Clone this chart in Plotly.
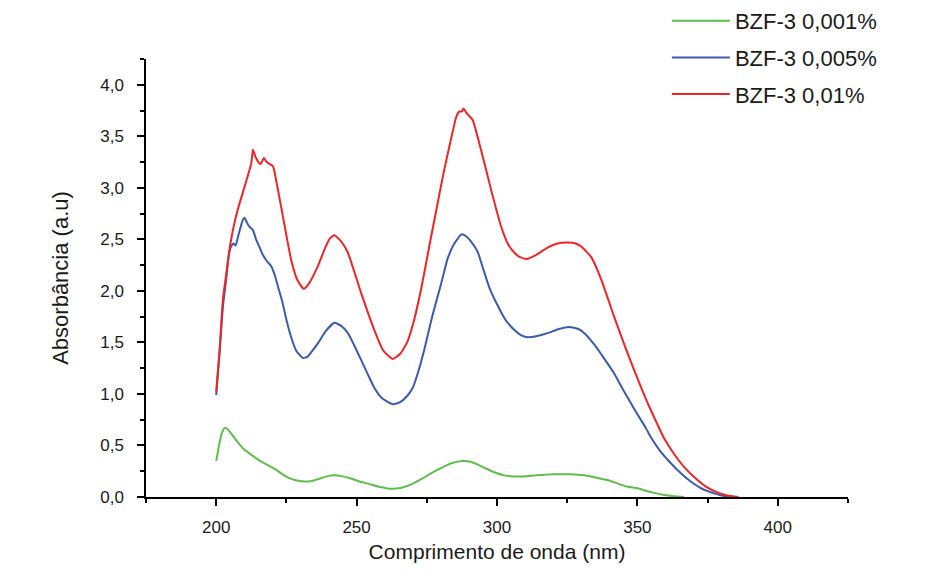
import plotly.graph_objects as go

# ---- data ----
wl_green = [200, 201, 202, 203, 204, 205.5, 207.7, 210, 212.5, 215, 218.4, 221, 223.1, 225.5, 227.9,
            231.4, 234, 237, 240, 242.1, 245, 248, 251, 254, 258, 262.3, 266, 270, 273.5, 276.5,
            280, 284, 287.8, 291, 295, 299, 302.6, 306, 309.7, 314, 320, 326.3, 331, 335, 339.4,
            343, 346.5, 350.1, 353, 356, 359.5, 363, 366.7]
abs_green = [0.35, 0.50, 0.62, 0.67, 0.66, 0.61, 0.53, 0.46, 0.41, 0.36, 0.31, 0.27, 0.23, 0.19, 0.165,
             0.15, 0.155, 0.18, 0.205, 0.21, 0.20, 0.18, 0.15, 0.13, 0.10, 0.08, 0.09, 0.13, 0.18, 0.23,
             0.28, 0.33, 0.35, 0.34, 0.29, 0.24, 0.21, 0.20, 0.20, 0.21, 0.22, 0.22, 0.21, 0.19, 0.165,
             0.13, 0.10, 0.085, 0.06, 0.04, 0.02, 0.008, 0.0]

wl_blue = [200, 201.2, 202.4, 203.5, 204.5, 205.3, 206.2, 206.9, 208, 209.5, 210.1, 211, 211.9, 213.1,
           214.2, 215.5, 216.6, 218, 219.6, 221, 222, 223.5, 225, 226.7, 228.5, 230.8, 232.5, 234,
           236.2, 239, 242.1, 244.5, 246.9, 249, 251.6, 254, 256.3, 259, 262.9, 265.5, 268, 270,
           272, 274.1, 277, 280.1, 282.5, 284.8, 287.4, 289, 290.7, 293.1, 295, 297.3, 300.2, 303, 306.2,
           308.5, 310.9, 314, 318, 322, 325.7, 329, 331.5, 334.6, 338, 341.7, 344.5, 347.7, 350.5,
           353, 354.8, 358, 361.5, 365.5, 369, 373, 377.3, 380, 383]
abs_blue = [0.99, 1.40, 1.85, 2.10, 2.35, 2.43, 2.46, 2.44, 2.55, 2.69, 2.71, 2.66, 2.62, 2.59,
            2.50, 2.42, 2.35, 2.29, 2.24, 2.14, 2.04, 1.90, 1.72, 1.55, 1.42, 1.35, 1.36, 1.41,
            1.49, 1.61, 1.69, 1.66, 1.59, 1.48, 1.33, 1.19, 1.06, 0.96, 0.90, 0.92, 0.98, 1.06,
            1.22, 1.43, 1.76, 2.07, 2.32, 2.46, 2.55, 2.53, 2.48, 2.38, 2.22, 2.03, 1.86, 1.72, 1.62,
            1.57, 1.55, 1.56, 1.59, 1.63, 1.65, 1.63, 1.58, 1.48, 1.35, 1.20, 1.06, 0.91, 0.78,
            0.67, 0.58, 0.45, 0.34, 0.23, 0.15, 0.08, 0.035, 0.015, 0.0]

wl_red = [200, 201.2, 202.4, 203.5, 205, 206.5, 208, 210.1, 212.5, 213.1, 214, 215, 215.8, 217, 218,
          220.2, 221.5, 223.1, 226.7, 229, 231.2, 233, 236.2, 239, 240.5, 242.1, 244.5, 246.9, 251.6,
          256.3, 259.5, 262.9, 265.5, 268, 270.5, 273, 276, 278.5, 281, 283.6, 285.4, 286.5, 287.5,
          288.1, 289, 290, 291.3, 294.3, 297.9, 301.4, 304, 306.2, 308, 310.5, 314, 318, 321.5,
          325.2, 328, 330, 333.5, 337, 341.7, 346, 351.2, 354, 357.2, 359.5, 363, 367, 371.4, 375,
          378, 382, 386]
abs_red = [1.02, 1.42, 1.92, 2.15, 2.45, 2.66, 2.82, 3.01, 3.24, 3.37, 3.30, 3.25, 3.23, 3.29, 3.25,
           3.21, 3.05, 2.82, 2.30, 2.10, 2.02, 2.07, 2.24, 2.43, 2.51, 2.54, 2.48, 2.37, 1.98,
           1.62, 1.42, 1.34, 1.39, 1.50, 1.72, 2.02, 2.45, 2.80, 3.15, 3.47, 3.68, 3.74, 3.74,
           3.77, 3.73, 3.70, 3.66, 3.37, 2.98, 2.63, 2.45, 2.37, 2.33, 2.31, 2.35, 2.42, 2.46,
           2.47, 2.46, 2.43, 2.33, 2.12, 1.75, 1.43, 1.07, 0.89, 0.70, 0.57, 0.42, 0.28, 0.165, 0.09,
           0.05, 0.015, 0.0]

series_names = ["BZF-3 0,001%", "BZF-3 0,005%", "BZF-3 0,01%"]
series_colors = ["#5DBE4A", "#3A5CAE", "#F02424"]

x_title = "Comprimento de onda (nm)"
y_title = "Absorbância (a.u)"

FONT = "Liberation Sans, Arial, sans-serif"

fig = go.Figure()
for i, (xs, ys) in enumerate([(wl_green, abs_green), (wl_blue, abs_blue), (wl_red, abs_red)]):
    fig.add_trace(go.Scatter(
        x=xs, y=ys, mode="lines", name=series_names[i], legendgroup=f"g{i}",
        line=dict(color=series_colors[i], width=2, shape="spline", smoothing=0.5),
    ))

fig.update_layout(
    width=924, height=574,
    paper_bgcolor="white", plot_bgcolor="white",
    margin=dict(l=138, r=84, t=51, b=85, autoexpand=False),
    separators=",.",
    font=dict(family=FONT, color="#1a1a1a"),
    showlegend=True,
    legend=dict(
        x=0.742, y=1.1347, xref="paper", yref="paper", xanchor="left", yanchor="top",
        font=dict(size=22, family=FONT, color="#1a1a1a"),
        tracegroupgap=5, bgcolor="rgba(0,0,0,0)", itemwidth=58,
    ),
)

fig.update_xaxes(
    range=[175, 425], tick0=200, dtick=50, ticks="outside", ticklen=7, tickwidth=1.5,
    showline=True, linecolor="black", linewidth=1.5, tickcolor="black",
    showgrid=False, zeroline=False, tickfont=dict(size=17), ticklabelstandoff=7,
    minor=dict(tick0=175, dtick=25, ticks="outside", ticklen=4, tickwidth=1.5, tickcolor="black", showgrid=False),
    title=dict(text=x_title, font=dict(size=21), standoff=8),
    automargin=False,
)
fig.update_yaxes(
    range=[0, 4.25], tick0=0, dtick=0.5, tickformat=".1f", ticks="outside", ticklen=7, tickwidth=1.5,
    showline=True, linecolor="black", linewidth=1.5, tickcolor="black",
    showgrid=False, zeroline=False, tickfont=dict(size=17), ticklabelstandoff=10,
    minor=dict(tick0=0, dtick=0.25, ticks="outside", ticklen=4, tickwidth=1.5, tickcolor="black", showgrid=False),
    title=dict(text=y_title, font=dict(size=22), standoff=26),
    automargin=False,
)

fig.write_html("out.html")
